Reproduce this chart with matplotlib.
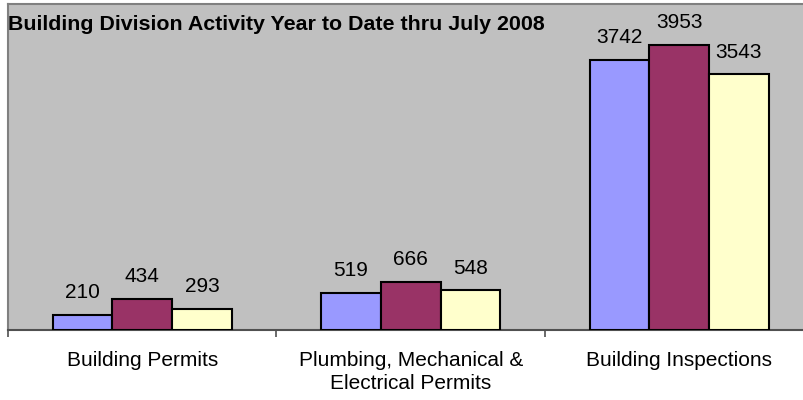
import numpy as np
import matplotlib.pyplot as plt

categories = ["Building Permits", "Plumbing, Mechanical &\nElectrical Permits", "Building Inspections"]
series_a = [210, 519, 3742]
series_b = [434, 666, 3953]
series_c = [293, 548, 3543]
colors = ["#9999FF", "#993366", "#FFFFCC"]

plt.rcParams['font.family'] = ['Liberation Sans', 'DejaVu Sans']

fig = plt.figure(figsize=(8.04, 4.0), dpi=100)
# plot area runs a bit past the right edge, as in the original
ax = fig.add_axes([8/804, 70/400, 805.5/804, 326/400])
ax.set_facecolor("#C0C0C0")

x = np.arange(len(categories))
w = 1/4.5
for i, (vals, col) in enumerate(zip([series_a, series_b, series_c], colors)):
    bars = ax.bar(x + (i-1)*w, vals, w, color=col, edgecolor="black", linewidth=1.5, zorder=3)
    for b, v in zip(bars, vals):
        ax.annotate(str(v), (b.get_x()+b.get_width()/2, v), xytext=(0, 12),
                    textcoords="offset points", ha="center", va="baseline", fontsize=15)

ax.set_xlim(-0.5, 2.5)
ax.set_ylim(0, 4515)
ax.set_yticks([])
ax.set_xticks([-0.5, 0.5, 1.5, 2.5])
ax.set_xticklabels([])
ax.set_xticks(x, minor=True)
ax.set_xticklabels(categories, minor=True, fontsize=15, linespacing=1.25)
ax.tick_params(axis='x', which='minor', length=0, pad=15)
ax.tick_params(axis='x', which='major', length=5, width=1.2, color="#505050")
for s in ["top", "left", "right"]:
    ax.spines[s].set_color("#808080")
    ax.spines[s].set_linewidth(1.5)
ax.spines["bottom"].set_color("#505050")
ax.spines["bottom"].set_linewidth(1.5)

fig.text(8/804, 1-24/400, "Building Division Activity Year to Date thru July 2008",
         fontsize=15.4, fontweight="bold", va="center", ha="left")

fig.savefig("out.png", dpi=100)
